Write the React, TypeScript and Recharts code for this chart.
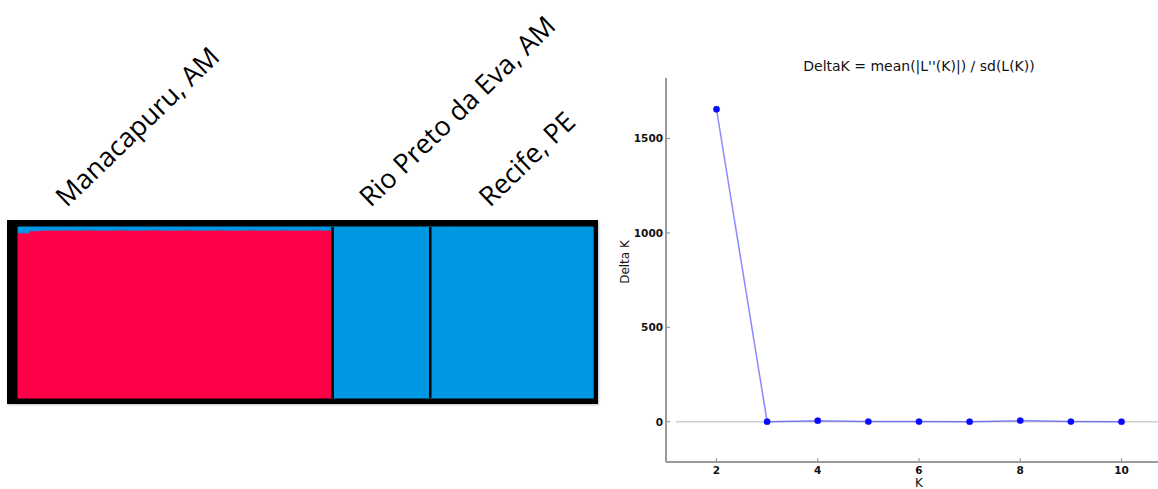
import React from 'react';
import {
  BarChart, Bar, XAxis, YAxis, ReferenceLine,
  LineChart, Line,
} from 'recharts';

// STRUCTURE ancestry (K = 2), one entry per individual
const populations = ['Manacapuru, AM', 'Rio Preto da Eva, AM', 'Recife, PE'];
const popPrefix = ['M', 'R', 'F'];

const manacapuruPink = [
  0.966, 0.978, 0.982, 0.982, 0.983, 0.982, 0.983, 0.982, 0.982, 0.983,
  0.982, 0.982, 0.983, 0.982, 0.982, 0.983, 0.982, 0.982, 0.983, 0.982,
  0.982, 0.983, 0.982, 0.982, 0.983, 0.982, 0.982, 0.983, 0.982,
];
const manacapuruBlue = [
  0.034, 0.022, 0.018, 0.018, 0.017, 0.018, 0.017, 0.018, 0.018, 0.017,
  0.018, 0.018, 0.017, 0.018, 0.018, 0.017, 0.018, 0.018, 0.017, 0.018,
  0.018, 0.017, 0.018, 0.018, 0.017, 0.018, 0.018, 0.017, 0.018,
];
const rioPretoPink = [0, 0, 0, 0, 0, 0, 0, 0, 0];
const rioPretoBlue = [1, 1, 1, 1, 1, 1, 1, 1, 1];
const recifePink = [0, 0, 0, 0, 0, 0, 0, 0, 0, 0, 0, 0, 0, 0, 0];
const recifeBlue = [1, 1, 1, 1, 1, 1, 1, 1, 1, 1, 1, 1, 1, 1, 1];

// individual at which each population label starts
const labelAt = ['M5', 'R4', 'F6'];
const popStart = ['R1', 'F1'];

// Evanno DeltaK
const kValues = [2, 3, 4, 5, 6, 7, 8, 9, 10];
const deltaK = [1655, 0.6, 5.8, 0.9, 0.7, 0.5, 6.2, 0.8, 0.4];
const yTicks = [0, 500, 1000, 1500];
const xTicks = [2, 4, 6, 8, 10];

const PINK = '#ff0048';
const BLUE = '#0098e2';

const pinkSets = [manacapuruPink, rioPretoPink, recifePink];
const blueSets = [manacapuruBlue, rioPretoBlue, recifeBlue];
const structureData = pinkSets.flatMap((pinks, p) =>
  pinks.map((v, i) => ({ id: popPrefix[p] + (i + 1), pink: v, blue: blueSets[p][i] }))
);
const labelName: Record<string, string> = {};
labelAt.forEach((id, i) => { labelName[id] = populations[i]; });

const deltaData = kValues.map((k, i) => ({ k, dk: deltaK[i] }));

const renderPopTick = (props: any) => {
  const { x, y, payload } = props;
  const name = labelName[payload?.value];
  if (!name) return <g />;
  return (
    <text
      x={x}
      y={y}
      textAnchor="start"
      transform={`rotate(-44, ${x}, ${y})`}
      fontFamily="'Open Sans', sans-serif"
      fontSize={27}
      fill="#000"
    >
      {name}
    </text>
  );
};

const renderYTick = (props: any) => {
  const { x, y, payload } = props;
  return (
    <g>
      <text x={x} y={y} dy="0.36em" textAnchor="end" fontFamily="'DejaVu Sans'" fontSize={10.5} fontWeight="bold" fill="#111">
        {payload.value}
      </text>
      <line x1={x + 3} x2={x + 7} y1={y} y2={y} stroke="#999" strokeWidth={1.2} />
    </g>
  );
};

const renderXTick = (props: any) => {
  const { x, y, payload } = props;
  return (
    <g>
      <text x={x} y={y} dy="0.76em" textAnchor="middle" fontFamily="'DejaVu Sans'" fontSize={10.5} fontWeight="bold" fill="#111">
        {payload.value}
      </text>
      <line x1={x} x2={x} y1={y - 4} y2={y - 8} stroke="#999" strokeWidth={1.2} />
    </g>
  );
};

const YLabel = (props: any) => {
  const vb = props.viewBox;
  const cx = vb.x + vb.width / 2;
  const cy = vb.y + vb.height / 2 - 8;
  return (
    <text x={cx} y={cy} dy="0.35em" textAnchor="middle" transform={`rotate(-90, ${cx}, ${cy})`}
      fontFamily="'DejaVu Sans'" fontSize={12} fill="#111">
      Delta K
    </text>
  );
};

const XLabel = (props: any) => {
  const vb = props.viewBox;
  const cx = vb.x + 10 + (vb.width - 10) / 2;
  return (
    <text x={cx} y={vb.y + 25} textAnchor="middle" fontFamily="'DejaVu Sans'" fontSize={12} fill="#111">
      K
    </text>
  );
};

export default function App() {
  return (
    <div style={{ position: 'relative', width: 1158, height: 489, overflow: 'hidden', background: '#fff' }}>
      <style>{'body { margin: 0; }'}</style>

      {/* black frame round the bar plot */}
      <div
        style={{
          position: 'absolute', left: 7, top: 220, width: 591, height: 184,
          background: '#000', boxShadow: '1px 1px 2px rgba(0,0,0,0.25)',
        }}
      />

      <div style={{ position: 'absolute', left: 0, top: 0 }}>
        <BarChart
          width={610}
          height={420}
          data={structureData}
          margin={{ top: 197, right: 17, bottom: 22, left: 18 }}
          barCategoryGap={0}
          barGap={0}
        >
          <XAxis
            dataKey="id"
            orientation="top"
            height={30}
            axisLine={false}
            tickLine={false}
            tickSize={0}
            tickMargin={19}
            ticks={labelAt}
            interval={0}
            tick={renderPopTick}
          />
          <YAxis hide domain={[0, 1]} />
          <Bar dataKey="pink" stackId="q" fill={PINK} stroke={PINK} strokeWidth={1} isAnimationActive={false} />
          <Bar dataKey="blue" stackId="q" fill={BLUE} stroke={BLUE} strokeWidth={1} isAnimationActive={false} />
          {popStart.map((id) => (
            <ReferenceLine key={id} x={id} position="start" stroke="#000" strokeWidth={2.5} />
          ))}
        </BarChart>
      </div>

      <div
        style={{
          position: 'absolute', left: 719, width: 400, top: 57, textAlign: 'center',
          fontFamily: "'DejaVu Sans'", fontSize: 14, lineHeight: '18px', color: '#111',
        }}
      >
        DeltaK = mean(|L''(K)|) / sd(L(K))
      </div>

      <div style={{ position: 'absolute', left: 560, top: 0 }}>
        <LineChart
          width={620}
          height={489}
          data={deltaData}
          margin={{ top: 78, right: 18, bottom: 0, left: 24 }}
        >
          <XAxis
            dataKey="k"
            type="number"
            domain={[1.2, 10.8]}
            allowDataOverflow
            ticks={xTicks}
            padding={{ left: 10, right: 0 }}
            height={27}
            axisLine={{ stroke: '#9a9a9a', strokeWidth: 2 }}
            tickLine={false}
            tickSize={0}
            tickMargin={4}
            tick={renderXTick}
            label={{ value: 'K', content: <XLabel /> }}
          />
          <YAxis
            type="number"
            domain={[-165.5, 1820.5]}
            allowDataOverflow
            ticks={yTicks}
            padding={{ top: 0, bottom: 9 }}
            width={82}
            axisLine={{ stroke: '#9a9a9a', strokeWidth: 2 }}
            tickLine={false}
            tickSize={0}
            tickMargin={3}
            tick={renderYTick}
            label={{ value: 'Delta K', content: <YLabel /> }}
          />
          <ReferenceLine
            segment={[{ x: 1.2, y: 0 }, { x: 10.8, y: 0 }]}
            stroke="#cfcfcf"
            strokeWidth={1.5}
            ifOverflow="visible"
          />
          <Line
            type="linear"
            dataKey="dk"
            stroke="#3a3aff"
            strokeOpacity={0.6}
            strokeWidth={1.5}
            dot={{ r: 3.2, fill: '#0a0aff', stroke: '#0a0aff', strokeWidth: 0.5, fillOpacity: 1 }}
            isAnimationActive={false}
          />
        </LineChart>
      </div>
    </div>
  );
}
